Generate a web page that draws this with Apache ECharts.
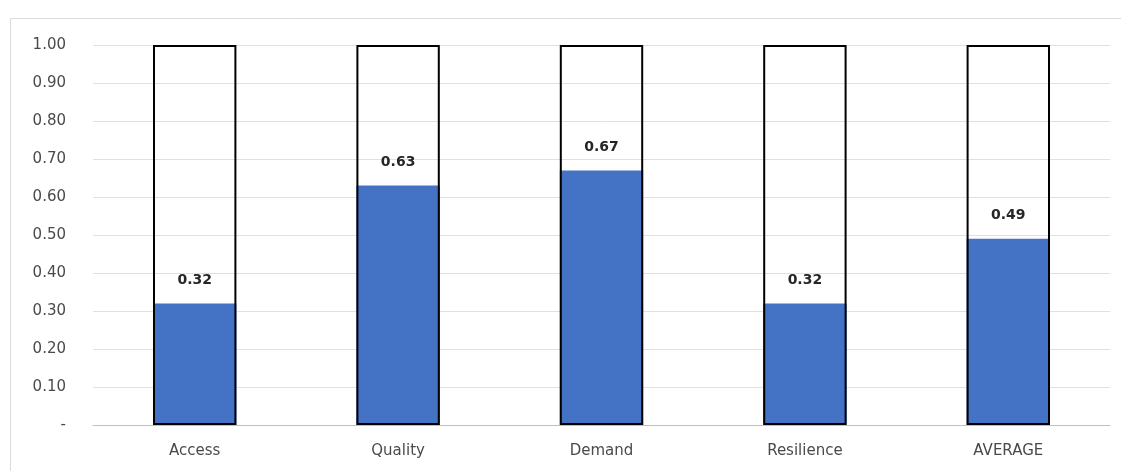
<!DOCTYPE html>
<html>
<head>
<meta charset="utf-8">
<script src="https://cdn.jsdelivr.net/npm/echarts@6/dist/echarts.min.js"></script>
<style>html,body{margin:0;padding:0;background:#fff;}#c{width:1121px;height:471px;}</style>
</head>
<body>
<div id="c"></div>
<script>
const categories = ['Access', 'Quality', 'Demand', 'Resilience', 'AVERAGE'];
const scores = [0.32, 0.63, 0.67, 0.32, 0.49];
const maxScores = [1, 1, 1, 1, 1];

const chart = echarts.init(document.getElementById('c'));
const font = '"DejaVu Sans", sans-serif';
chart.setOption({
  animation: false,
  backgroundColor: '#fff',
  graphic: [{
    type: 'rect', left: 8, top: 16, shape: { width: 1130, height: 470 },
    style: { fill: 'none', stroke: '#dcdcdc', lineWidth: 1 }, z: -1
  }],
  grid: { left: 93, right: 11, top: 45, bottom: 46 },
  xAxis: {
    type: 'category', data: categories,
    axisTick: { show: false },
    axisLine: { lineStyle: { color: '#bfbfbf', width: 1 } },
    axisLabel: { color: '#4a4a4a', fontFamily: font, fontSize: 15, margin: 19 }
  },
  yAxis: {
    type: 'value', min: 0, max: 1, interval: 0.1,
    axisLine: { show: false }, axisTick: { show: false },
    splitLine: { lineStyle: { color: '#e0e0e0' } },
    axisLabel: {
      color: '#4a4a4a', fontFamily: font, fontSize: 15, margin: 27,
      formatter: v => v === 0 ? '-' : v.toFixed(2)
    }
  },
  series: [
    {
      name: 'score', type: 'bar', data: scores, barWidth: '41%', barGap: '-100%', z: 2,
      itemStyle: { color: '#4472C4' },
      label: {
        show: true, position: 'top', distance: 16, color: '#262626',
        fontFamily: font, fontSize: 14, fontWeight: 'bold',
        formatter: p => p.value.toFixed(2)
      }
    },
    {
      name: 'max', type: 'bar', data: maxScores, barWidth: '41%', barGap: '-100%', z: 3,
      itemStyle: { color: 'rgba(0,0,0,0)', borderColor: '#000', borderWidth: 2 },
      silent: true
    }
  ]
});
</script>
</body>
</html>
